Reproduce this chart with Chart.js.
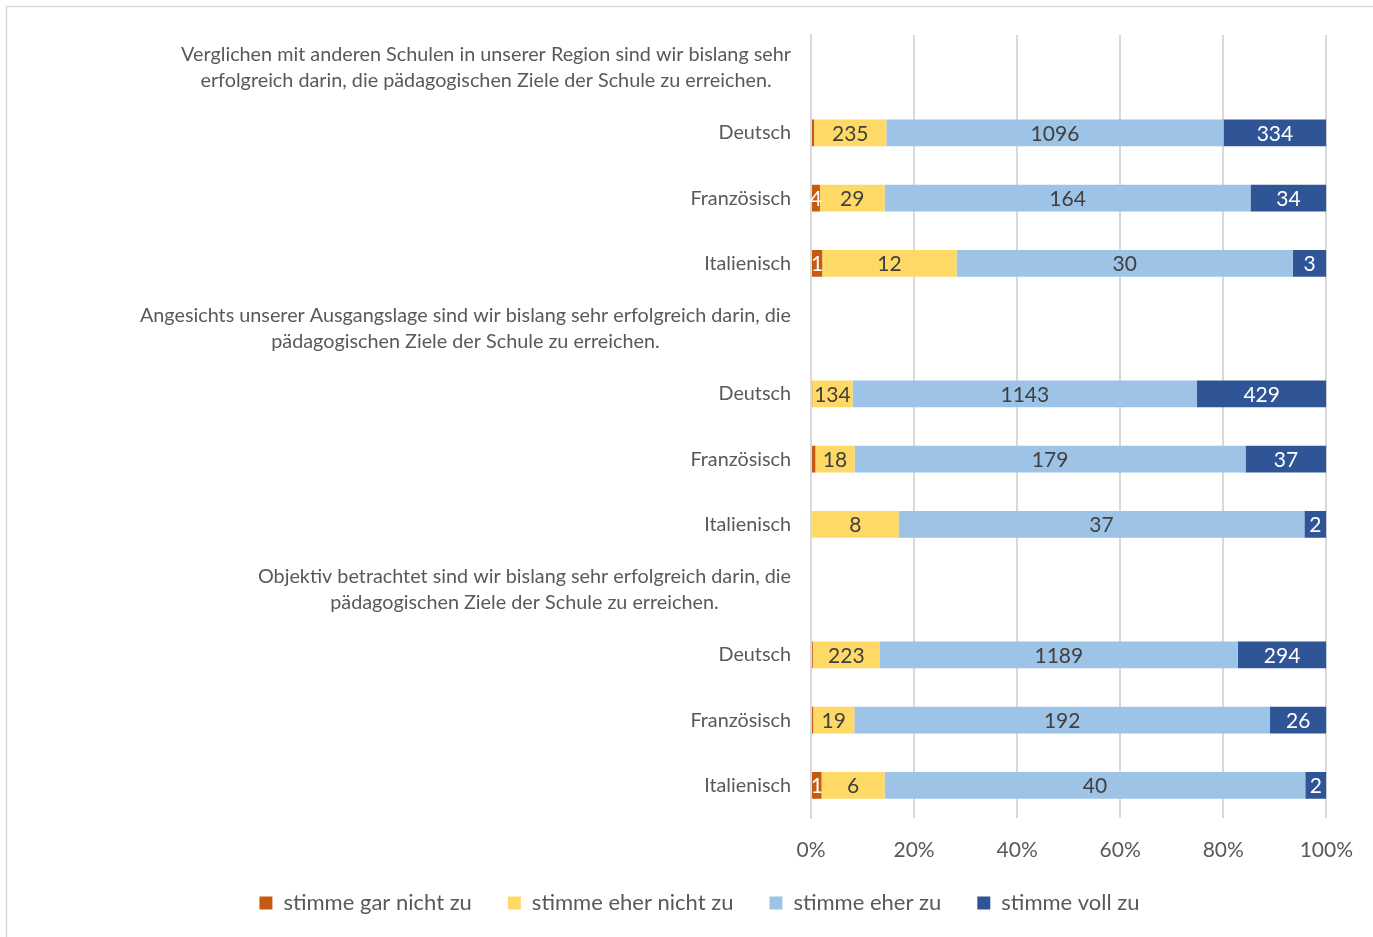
<!DOCTYPE html>
<html>
<head>
<meta charset="utf-8">
<script src="https://cdn.jsdelivr.net/npm/chart.js@4"></script>
<style>
  html, body { margin: 0; padding: 0; background: #fff; }
  #wrap { position: relative; width: 1373px; height: 937px; }
</style>
</head>
<body>
<div id="wrap"><canvas id="chart" width="1373" height="937"></canvas></div>
<script>
// Fragen (Kopfzeilen) und Sprachen
const fragen = [
  ["Verglichen mit anderen Schulen in unserer Region sind wir bislang sehr", "erfolgreich darin, die pädagogischen Ziele der Schule zu erreichen."],
  ["Angesichts unserer Ausgangslage sind wir bislang sehr erfolgreich darin, die", "pädagogischen Ziele der Schule zu erreichen."],
  ["Objektiv betrachtet sind wir bislang sehr erfolgreich darin, die", "pädagogischen Ziele der Schule zu erreichen."]
];
const sprachen = ["Deutsch", "Französisch", "Italienisch"];

// Zeilen: Kopfzeile (null) + 3 Sprachen je Frage
const garNichtZu = [null, 10, 4, 1, null, 4, 2, 0, null, 6, 1, 1];
const eherNichtZu = [null, 235, 29, 12, null, 134, 18, 8, null, 223, 19, 6];
const eherZu = [null, 1096, 164, 30, null, 1143, 179, 37, null, 1189, 192, 40];
const vollZu = [null, 334, 34, 3, null, 429, 37, 2, null, 294, 26, 2];

const serienNamen = ["stimme gar nicht zu", "stimme eher nicht zu", "stimme eher zu", "stimme voll zu"];
const farben = ["#C55A11", "#FFD966", "#9DC3E6", "#2F5597"];
const labelFarben = ["#ffffff", "#404040", "#404040", "#ffffff"];
const xTicks = [0, 20, 40, 60, 80, 100];

const FONT = "Lato, 'Liberation Sans', sans-serif";

// Beschriftungen der Zeilen
const labels = [];
fragen.forEach((f, i) => {
  labels.push("#frage" + i);
  sprachen.forEach(s => labels.push(s));
});

const roh = [garNichtZu, eherNichtZu, eherZu, vollZu];
const summen = labels.map((_, i) => {
  if (garNichtZu[i] === null) return null;
  return roh.reduce((a, arr) => a + arr[i], 0);
});

const datasets = roh.map((arr, k) => ({
  label: serienNamen[k],
  data: arr.map((v, i) => v === null ? null : v / summen[i] * 100),
  rawCounts: arr,
  backgroundColor: farben[k],
  borderWidth: 0,
  categoryPercentage: 1,
  barPercentage: 0.41
}));

// Werte in den Balken zeichnen
const wertePlugin = {
  id: "werte",
  afterDatasetsDraw(chart) {
    const ctx = chart.ctx;
    ctx.save();
    ctx.font = "21px " + FONT;
    ctx.textAlign = "center";
    ctx.textBaseline = "middle";
    chart.data.datasets.forEach((ds, k) => {
      const meta = chart.getDatasetMeta(k);
      meta.data.forEach((bar, i) => {
        const v = ds.rawCounts[i];
        if (v === null || v === 0) return;
        const w = Math.abs(bar.x - bar.base);
        if (w < 6) return;
        ctx.fillStyle = labelFarben[k];
        ctx.fillText(String(v), (bar.x + bar.base) / 2, bar.y + 1);
      });
    });
    ctx.restore();
  }
};

// Fragetexte als Kopfzeilen + Rahmen
const kopfPlugin = {
  id: "kopf",
  afterLayout(chart) {
    // Legende etwas naeher an die Achse
    if (chart.legend) {
      chart.legend.top -= 13;
      chart.legend.bottom -= 13;
    }
  },
  beforeDraw(chart) {
    const ctx = chart.ctx;
    ctx.save();
    ctx.strokeStyle = "#d9d9d9";
    ctx.lineWidth = 1.5;
    ctx.strokeRect(6.5, 6.5, 1450, 1000);
    ctx.restore();
  },
  afterDraw(chart) {
    const ctx = chart.ctx;
    const y = chart.scales.y;
    ctx.save();
    ctx.font = "19.8px " + FONT;
    ctx.fillStyle = "#595959";
    ctx.textAlign = "center";
    ctx.textBaseline = "middle";
    const rechts = 791;
    fragen.forEach((zeilen, f) => {
      const idx = f * 4;
      const yc = y.getPixelForValue(idx);
      const maxW = Math.max(...zeilen.map(z => ctx.measureText(z).width));
      const xc = rechts - maxW / 2;
      zeilen.forEach((z, j) => {
        ctx.fillText(z, xc, yc + (j - (zeilen.length - 1) / 2) * 26);
      });
    });
    ctx.restore();
  }
};

new Chart(document.getElementById("chart"), {
  type: "bar",
  data: { labels, datasets },
  options: {
    indexAxis: "y",
    responsive: false,
    animation: false,
    layout: { padding: { top: 35, right: 43, bottom: 0, left: 69 } },
    scales: {
      x: {
        stacked: true,
        min: 0,
        max: 100,
        afterBuildTicks(scale) {
          scale.ticks = xTicks.map(v => ({ value: v }));
        },
        afterFit(scale) { scale.height = 51; },
        ticks: {
          callback: v => v + "%",
          color: "#595959",
          font: { size: 21, family: FONT },
          padding: 20,
          maxRotation: 0
        },
        grid: { color: "#d9d9d9", lineWidth: 2, drawTicks: false },
        border: { display: false }
      },
      y: {
        stacked: true,
        afterFit(scale) { scale.width = 811 - 69; },
        ticks: {
          autoSkip: false,
          callback(val) {
            const l = this.getLabelForValue(val);
            return l.startsWith("#frage") ? "" : l;
          },
          color: "#595959",
          font: { size: 19.8, family: FONT },
          padding: 20
        },
        grid: { display: false, drawTicks: false },
        border: { display: true, color: "#d9d9d9", width: 2 }
      }
    },
    plugins: {
      legend: {
        position: "bottom",
        labels: {
          boxWidth: 13,
          boxHeight: 13,
          padding: 36,
          color: "#595959",
          font: { size: 22, family: FONT }
        }
      },
      tooltip: { enabled: false }
    }
  },
  plugins: [wertePlugin, kopfPlugin]
});
</script>
</body>
</html>
